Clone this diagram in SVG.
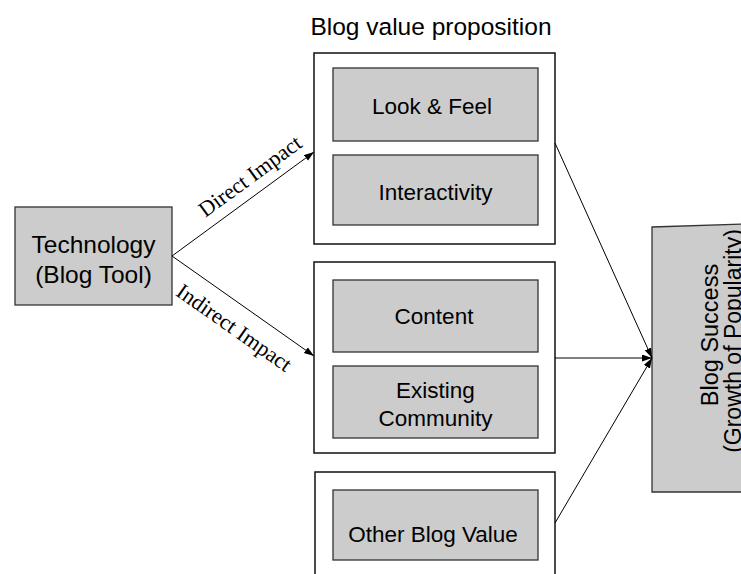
<svg xmlns="http://www.w3.org/2000/svg" width="741" height="574" viewBox="0 0 741 574">
<style>
.sans{font-family:"Liberation Sans",Arial,sans-serif;fill:#000}
.serif{font-family:"Liberation Serif","Times New Roman",serif;fill:#000;font-size:22px}
.gray{fill:#cccccc;stroke:#333;stroke-width:1.3}
.outer{fill:#fff;stroke:#111;stroke-width:1.5}
.conn{stroke:#000;stroke-width:1;fill:none}
.t22{font-size:22.5px;text-anchor:middle}
</style>
<defs>
<marker id="arr" markerUnits="userSpaceOnUse" markerWidth="11" markerHeight="8" refX="10" refY="3.5" orient="auto">
<path d="M0,0 L10,3.5 L0,7 z" fill="#000"/>
</marker>
</defs>
<rect width="741" height="574" fill="#fff"/>
<text class="sans" x="431" y="35" font-size="24.5" text-anchor="middle">Blog  value proposition</text>
<g id="technology">
<rect class="gray" x="15" y="207" width="157" height="98"/>
<text class="sans" x="93.5" y="253" font-size="24.5" text-anchor="middle">Technology</text>
<text class="sans" x="93.5" y="283" font-size="24.5" text-anchor="middle">(Blog Tool)</text>
</g>
<g id="group-direct">
<rect class="outer" x="314" y="53" width="241" height="191"/>
</g>
<g id="look-feel">
<rect class="gray" x="333" y="68" width="205" height="73"/>
<text class="sans t22" x="432" y="114">Look &amp; Feel</text>
</g>
<g id="interactivity">
<rect class="gray" x="333" y="155" width="205" height="70"/>
<text class="sans t22" x="435.5" y="200">Interactivity</text>
</g>
<g id="group-indirect">
<rect class="outer" x="314" y="262" width="241" height="191"/>
</g>
<g id="content">
<rect class="gray" x="333" y="280" width="205" height="72"/>
<text class="sans t22" x="434" y="324">Content</text>
</g>
<g id="existing-community">
<rect class="gray" x="333" y="366" width="205" height="72"/>
<text class="sans t22" x="435.5" y="398">Existing</text>
<text class="sans t22" x="435.5" y="426">Community</text>
</g>
<g id="group-other">
<rect class="outer" x="315" y="472" width="240" height="120"/>
</g>
<g id="other-blog-value">
<rect class="gray" x="333" y="490" width="205" height="70"/>
<text class="sans t22" x="433" y="542">Other Blog Value</text>
</g>
<g id="blog-success">
<polygon class="gray" points="652,227 745,224 745,492 652,492"/>
<text class="sans" font-size="23.5" text-anchor="middle" transform="translate(718,335) rotate(-90)">Blog  Success</text>
<text class="sans" font-size="23" text-anchor="middle" transform="translate(741,341) rotate(-90)">(Growth of Popularity)</text>
</g>
<g id="connectors">
<line class="conn" x1="172" y1="256" x2="314" y2="152" marker-end="url(#arr)"/>
<line class="conn" x1="172" y1="256" x2="314" y2="356" marker-end="url(#arr)"/>
<line class="conn" x1="555" y1="143" x2="652" y2="358" marker-end="url(#arr)"/>
<line class="conn" x1="555" y1="358" x2="652" y2="358" marker-end="url(#arr)"/>
<line class="conn" x1="555" y1="523" x2="652" y2="358" marker-end="url(#arr)"/>
<text class="serif" text-anchor="middle" transform="translate(254.3,182.1) rotate(-36.2)">Direct Impact</text>
<text class="serif" text-anchor="middle" transform="translate(230,333.6) rotate(35.2)">Indirect Impact</text>
</g>
</svg>
